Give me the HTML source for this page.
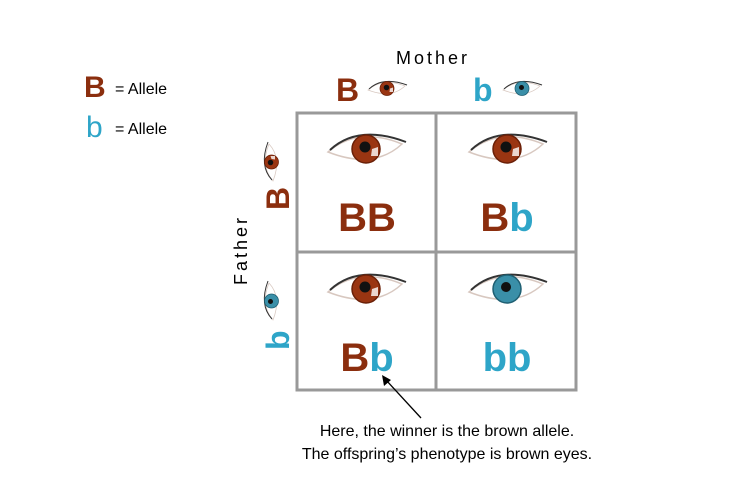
<!DOCTYPE html>
<html><head><meta charset="utf-8"><style>
html,body{margin:0;padding:0;background:#fff;}
svg{display:block;font-family:"Liberation Sans",Arial,sans-serif;}
</style></head><body>
<svg width="750" height="500" viewBox="0 0 750 500" xmlns="http://www.w3.org/2000/svg">
<defs>
  <g id="eyeB">
    <path d="M-38,2 Q-8,-24 36,-6 Q8,20 -38,2 Z" fill="#fff" stroke="#d8c8c0" stroke-width="1.5"/>
    <path d="M-36,0 Q-8,-26 40,-8" fill="none" stroke="#333" stroke-width="2"/>
    <circle cx="0" cy="-1" r="14" fill="#9a3512"/>
    <circle cx="0" cy="-1" r="14" fill="none" stroke="#6a2008" stroke-width="1.5"/>
    <circle cx="-1" cy="-3" r="5.5" fill="#111"/>
    <path d="M6,-1 L12,-3 L12,6 L5,6 Z" fill="#fff" opacity=".8"/>
  </g>
  <g id="eyeb">
    <path d="M-38,2 Q-8,-24 36,-6 Q8,20 -38,2 Z" fill="#fff" stroke="#d8c8c0" stroke-width="1.5"/>
    <path d="M-36,0 Q-8,-26 40,-8" fill="none" stroke="#333" stroke-width="2"/>
    <circle cx="0" cy="-1" r="14" fill="#3a8fa8"/>
    <circle cx="0" cy="-1" r="14" fill="none" stroke="#1f5f72" stroke-width="1.5"/>
    <circle cx="-1" cy="-3" r="5" fill="#111"/>
  </g>
</defs>

<!-- legend -->
<text x="84" y="97" font-size="30" font-weight="bold" fill="#8b2e0e">B</text>
<text x="115" y="94" font-size="16" fill="#000">= Allele</text>
<text x="86" y="137" font-size="30" fill="#2ea5c8">b</text>
<text x="115" y="134" font-size="16" fill="#000">= Allele</text>

<!-- Mother -->
<text x="433" y="64" font-size="18" letter-spacing="3" text-anchor="middle" fill="#000">Mother</text>
<text x="336" y="101" font-size="32" font-weight="bold" fill="#8b2e0e">B</text>
<use href="#eyeB" transform="translate(387,89) scale(0.5)"/>
<text x="473" y="101" font-size="32" font-weight="bold" fill="#2ea5c8">b</text>
<use href="#eyeb" transform="translate(522,89) scale(0.5)"/>

<!-- Father -->
<text transform="translate(247,250) rotate(-90)" font-size="18" letter-spacing="3" text-anchor="middle" fill="#000">Father</text>
<text transform="translate(289,210) rotate(-90)" font-size="32" font-weight="bold" fill="#8b2e0e">B</text>
<use href="#eyeB" transform="translate(272,162) rotate(-90) scale(0.5)"/>
<text transform="translate(289,350) rotate(-90)" font-size="32" font-weight="bold" fill="#2ea5c8">b</text>
<use href="#eyeb" transform="translate(272,301) rotate(-90) scale(0.5)"/>

<!-- grid -->
<rect x="297" y="113" width="279" height="277" fill="#fff" stroke="#999" stroke-width="3"/>
<line x1="436" y1="113" x2="436" y2="390" stroke="#999" stroke-width="3"/>
<line x1="297" y1="252" x2="576" y2="252" stroke="#999" stroke-width="3"/>

<use href="#eyeB" transform="translate(366,150)"/>
<use href="#eyeB" transform="translate(507,150)"/>
<use href="#eyeB" transform="translate(366,290)"/>
<use href="#eyeb" transform="translate(507,290)"/>

<text x="367" y="231" font-size="40" font-weight="bold" text-anchor="middle" fill="#8b2e0e">BB</text>
<text x="507" y="231" font-size="40" font-weight="bold" text-anchor="middle"><tspan fill="#8b2e0e">B</tspan><tspan fill="#2ea5c8">b</tspan></text>
<text x="367" y="371" font-size="40" font-weight="bold" text-anchor="middle"><tspan fill="#8b2e0e">B</tspan><tspan fill="#2ea5c8">b</tspan></text>
<text x="507" y="371" font-size="40" font-weight="bold" text-anchor="middle" fill="#2ea5c8">bb</text>

<!-- arrow -->
<line x1="421" y1="418" x2="386" y2="380" stroke="#000" stroke-width="1.3"/>
<path d="M382,375 L384,386 L391,380 Z" fill="#000"/>

<text x="447" y="436" font-size="16" text-anchor="middle" fill="#000">Here, the winner is the brown allele.</text>
<text x="447" y="459" font-size="16" text-anchor="middle" fill="#000">The offspring’s phenotype is brown eyes.</text>
</svg>
</body></html>
